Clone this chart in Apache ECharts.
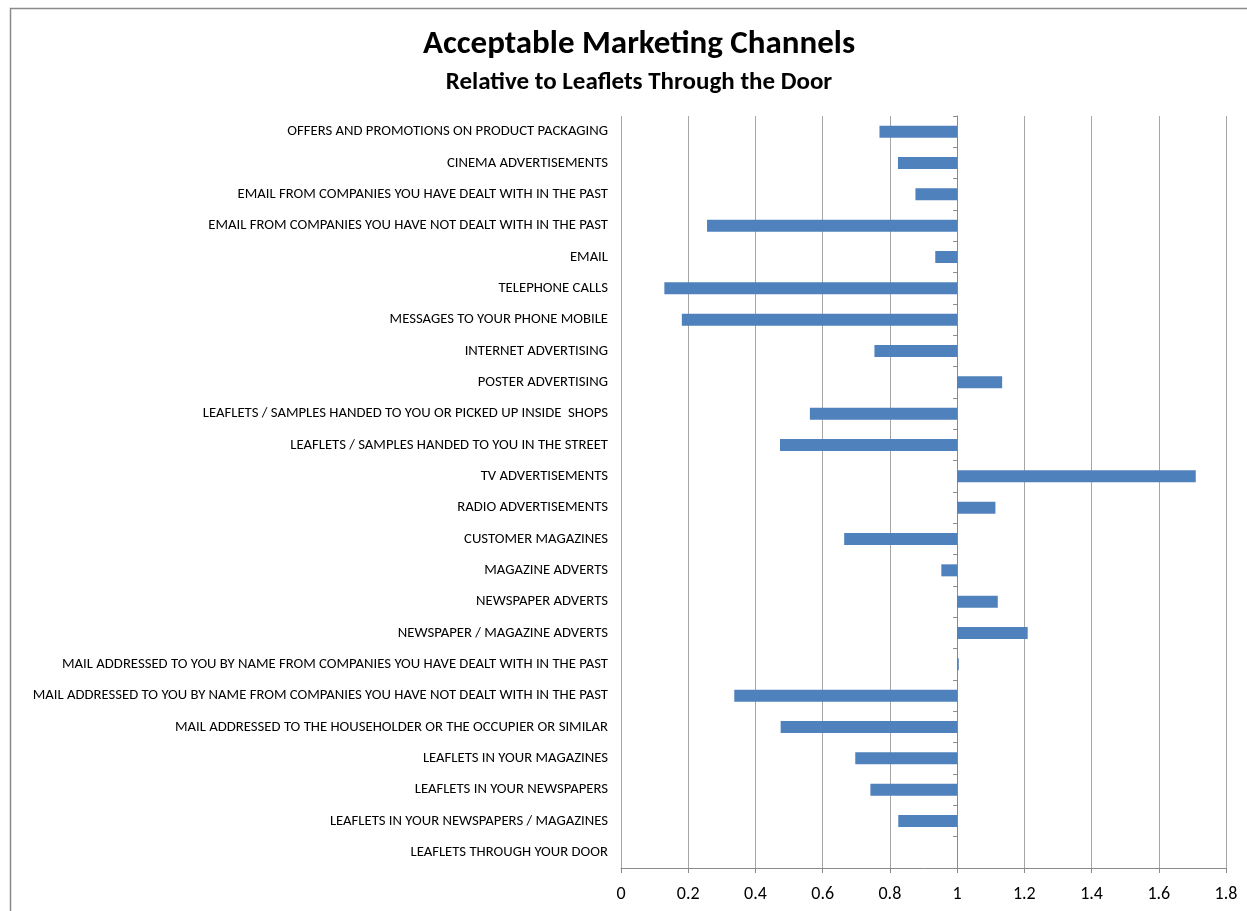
<!DOCTYPE html>
<html>
<head>
<meta charset="utf-8">
<title>Acceptable Marketing Channels</title>
<script src="https://cdn.jsdelivr.net/npm/echarts@6/dist/echarts.min.js"></script>
<style>
  html, body { margin: 0; padding: 0; background: #fff; }
  #chart { width: 1247px; height: 911px; }
</style>
</head>
<body>
<div id="chart"></div>
<script>
// Channels, listed top to bottom
const channels = [
  'OFFERS AND PROMOTIONS ON PRODUCT PACKAGING',
  'CINEMA ADVERTISEMENTS',
  'EMAIL FROM COMPANIES YOU HAVE DEALT WITH IN THE PAST',
  'EMAIL FROM COMPANIES YOU HAVE NOT DEALT WITH IN THE PAST',
  'EMAIL',
  'TELEPHONE CALLS',
  'MESSAGES TO YOUR PHONE MOBILE',
  'INTERNET ADVERTISING',
  'POSTER ADVERTISING',
  'LEAFLETS / SAMPLES HANDED TO YOU OR PICKED UP INSIDE  SHOPS',
  'LEAFLETS / SAMPLES HANDED TO YOU IN THE STREET',
  'TV ADVERTISEMENTS',
  'RADIO ADVERTISEMENTS',
  'CUSTOMER MAGAZINES',
  'MAGAZINE ADVERTS',
  'NEWSPAPER ADVERTS',
  'NEWSPAPER / MAGAZINE ADVERTS',
  'MAIL ADDRESSED TO YOU BY NAME FROM COMPANIES YOU HAVE DEALT WITH IN THE PAST',
  'MAIL ADDRESSED TO YOU BY NAME FROM COMPANIES YOU HAVE NOT DEALT WITH IN THE PAST',
  'MAIL ADDRESSED TO THE HOUSEHOLDER OR THE OCCUPIER OR SIMILAR',
  'LEAFLETS IN YOUR MAGAZINES',
  'LEAFLETS IN YOUR NEWSPAPERS',
  'LEAFLETS IN YOUR NEWSPAPERS / MAGAZINES',
  'LEAFLETS THROUGH YOUR DOOR'
];

// Acceptability index, leaflets through the door = 1
const relativeScore = [
  0.769, 0.824, 0.876, 0.256, 0.935, 0.129, 0.181, 0.754,
  1.134, 0.562, 0.473, 1.710, 1.114, 0.664, 0.953, 1.121,
  1.210, 1.005, 0.337, 0.475, 0.697, 0.742, 0.825, 1.000
];

// Value axis settings
const axisMin = 0;
const axisMax = 1.8;
const axisStep = 0.2;
const reference = 1;

// Bars grow out of the reference line: an invisible stack segment up to
// the lower end, then the visible gap between the score and the reference.
const lowerEnd = relativeScore.map(v => Math.min(v, reference));
const gap = relativeScore.map(v => Math.abs(v - reference));

const labelFont = 'Carlito, Lato, "Open Sans", sans-serif';
const gridBox = { left: 621, right: 21, top: 116, bottom: 43 };
const gridWidth = 1247 - gridBox.left - gridBox.right;

const chart = echarts.init(document.getElementById('chart'), null, { renderer: 'canvas' });

chart.setOption({
  backgroundColor: '#ffffff',
  animation: false,
  graphic: [{
    type: 'rect',
    shape: { x: 10.5, y: 8.5, width: 1260, height: 940 },
    style: { fill: 'none', stroke: '#8a8a8a', lineWidth: 1.5 },
    silent: true,
    z: -1
  }],
  title: [
    {
      text: 'Acceptable Marketing Channels',
      left: 634, top: 23, textAlign: 'center',
      textStyle: { fontFamily: labelFont, fontWeight: 'bold', fontSize: 33, color: '#000' }
    },
    {
      text: 'Relative to Leaflets Through the Door',
      left: 634, top: 65, textAlign: 'center',
      textStyle: { fontFamily: labelFont, fontWeight: 'bold', fontSize: 25, color: '#000' }
    }
  ],
  grid: gridBox,
  xAxis: {
    type: 'value',
    min: axisMin, max: axisMax, interval: axisStep,
    axisLine: { show: true, lineStyle: { color: '#8a8a8a', width: 1 } },
    axisTick: { show: true, length: 5, lineStyle: { color: '#8a8a8a' } },
    axisLabel: {
      fontFamily: labelFont, fontSize: 18, color: '#000', margin: 17,
      formatter: v => String(Math.round(v * 10) / 10)
    },
    splitLine: { show: true, lineStyle: { color: '#a6a6a6', width: 1 } }
  },
  yAxis: [
    {
      type: 'category',
      data: channels,
      inverse: true,
      axisLine: { show: false },
      axisTick: { show: false },
      axisLabel: { fontFamily: labelFont, fontSize: 14.7, color: '#000', margin: 13 }
    },
    {
      // category axis crossing the value axis at the reference
      type: 'category',
      data: channels,
      inverse: true,
      position: 'left',
      offset: -gridWidth * (reference - axisMin) / (axisMax - axisMin),
      axisLine: { show: true, lineStyle: { color: '#8a8a8a', width: 1 } },
      axisTick: { show: true, length: 4, lineStyle: { color: '#8a8a8a' } },
      axisLabel: { show: false }
    }
  ],
  series: [
    {
      type: 'bar',
      stack: 'rel',
      data: lowerEnd,
      barWidth: 12,
      itemStyle: { color: 'rgba(0,0,0,0)' },
      silent: true
    },
    {
      type: 'bar',
      stack: 'rel',
      data: gap,
      barWidth: 12,
      itemStyle: { color: '#4f81bd' }
    }
  ]
});
</script>
</body>
</html>
